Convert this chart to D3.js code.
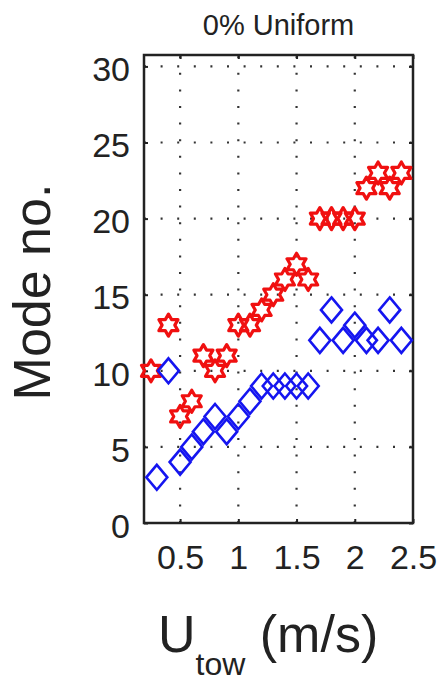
<!DOCTYPE html>
<html>
<head>
<meta charset="utf-8">
<script src="https://cdn.jsdelivr.net/npm/d3@7"></script>
<style>
  body { margin: 0; background: #ffffff; }
  text { font-family: Arial, "Liberation Sans", sans-serif; fill: #222222; }
</style>
</head>
<body>
<svg id="mode-chart" width="439" height="683"></svg>
<script>
    // red hexagrams
    let redSpeed = [0.25, 0.4, 0.5, 0.6, 0.7, 0.8, 0.9, 1.0, 1.1, 1.2, 1.3, 1.4, 1.5, 1.6, 1.7, 1.8, 1.9, 2.0, 2.1, 2.2, 2.3, 2.4]
    let redMode  = [10, 13, 7, 8, 11, 10, 11, 13, 13, 14, 15, 16, 17, 16, 20, 20, 20, 20, 22, 23, 22, 23]

    // blue diamonds
    let blueSpeed = [0.3, 0.4, 0.5, 0.6, 0.7, 0.8, 0.9, 1.0, 1.1, 1.2, 1.3, 1.4, 1.5, 1.6, 1.7, 1.8, 1.9, 2.0, 2.1, 2.2, 2.3, 2.4]
    let blueMode  = [3, 10, 4, 5, 6, 7, 6, 7, 8, 9, 9, 9, 9, 9, 12, 14, 12, 13, 12, 12, 14, 12]

    let xTicks = [0.5, 1, 1.5, 2, 2.5]
    let yTicks = [0, 5, 10, 15, 20, 25, 30]

    let svg = d3.select("#mode-chart")

    let plot = { left: 144, right: 413, top: 55, bottom: 523 }

    let x = d3.scaleLinear()
        .domain([0.19, 2.5])
        .range([plot.left, plot.right])

    let y = d3.scaleLinear()
        .domain([0, 30.75])
        .range([plot.bottom, plot.top])

    // dotted grid
    let grid = svg.append("g")
        .style("stroke", "#333")
        .style("stroke-width", 2.2)
        .style("stroke-dasharray", "2,14.6")

    grid.selectAll(".vgrid")
        .data(xTicks.slice(0, 4))
        .join("line")
        .attr("x1", d => x(d))
        .attr("x2", d => x(d))
        .attr("y1", plot.bottom)
        .attr("y2", plot.top)

    grid.selectAll(".hgrid")
        .data(yTicks.slice(1))
        .join("line")
        .attr("x1", plot.left)
        .attr("x2", plot.right)
        .attr("y1", d => y(d))
        .attr("y2", d => y(d))

    // axes with inward ticks
    let xAxisSettings = d3.axisBottom(x)
        .tickValues(xTicks)
        .tickSize(-4)
        .tickPadding(22)
        .tickFormat(d3.format("~g"))

    let yAxisSettings = d3.axisLeft(y)
        .tickValues(yTicks)
        .tickSize(-4)
        .tickPadding(14)

    let xAxisTicks = svg.append("g")
        .attr("class", "x axis")
        .attr("transform", `translate(0, ${plot.bottom})`)
        .call(xAxisSettings)

    let yAxisTicks = svg.append("g")
        .attr("class", "y axis")
        .attr("transform", `translate(${plot.left}, 0)`)
        .call(yAxisSettings)

    // top and right ticks
    svg.append("g")
        .attr("transform", `translate(0, ${plot.top})`)
        .call(d3.axisTop(x).tickValues(xTicks).tickSize(-4).tickFormat(""))
    svg.append("g")
        .attr("transform", `translate(${plot.right}, 0)`)
        .call(d3.axisRight(y).tickValues(yTicks).tickSize(-4).tickFormat(""))

    svg.selectAll(".domain").remove()
    svg.selectAll(".tick line")
        .style("stroke", "#222")
        .style("stroke-width", 2)

    svg.selectAll(".axis text")
        .style("font-size", "34px")
        .style("font-family", "Arial, 'Liberation Sans', sans-serif")
        .attr("fill", "#222")

    yAxisTicks.selectAll("text").attr("dy", "0.42em")
    xAxisTicks.selectAll("text").attr("dy", "0.71em")

    // frame
    svg.append("rect")
        .attr("x", plot.left)
        .attr("y", plot.top)
        .attr("width", plot.right - plot.left)
        .attr("height", plot.bottom - plot.top)
        .style("fill", "none")
        .style("stroke", "#222")
        .style("stroke-width", 2.5)

    // markers
    function hexagram(R) {
        let r = R / Math.sqrt(3)
        let pts = d3.range(12).map(i => {
            let a = -Math.PI / 2 + i * Math.PI / 6
            let rad = i % 2 == 0 ? R : r
            return [rad * Math.cos(a), rad * Math.sin(a)]
        })
        return "M" + pts.join("L") + "Z"
    }

    let redData = redSpeed.map((s, i) => ({ speed: s, mode: redMode[i] }))
    let blueData = blueSpeed.map((s, i) => ({ speed: s, mode: blueMode[i] }))

    svg.append("g")
        .selectAll("path")
        .data(redData)
        .join("path")
        .attr("transform", d => `translate(${x(d.speed)}, ${y(d.mode)})`)
        .attr("d", hexagram(11))
        .style("fill", "none")
        .style("stroke", "#f01010")
        .style("stroke-width", 3.2)
        .style("stroke-linejoin", "round")

    svg.append("g")
        .selectAll("path")
        .data(blueData)
        .join("path")
        .attr("transform", d => `translate(${x(d.speed)}, ${y(d.mode)})`)
        .attr("d", "M0,-12.5L10.5,0L0,12.5L-10.5,0Z")
        .style("fill", "none")
        .style("stroke", "#1515f0")
        .style("stroke-width", 2.6)

    // title and labels
    svg.append("text")
        .attr("x", (plot.left + plot.right) / 2)
        .attr("y", 35)
        .attr("text-anchor", "middle")
        .style("font-size", "29px")
        .text("0% Uniform")

    svg.append("text")
        .attr("transform", "translate(50, 292) rotate(-90)")
        .attr("text-anchor", "middle")
        .style("font-size", "52px")
        .text("Mode no.")

    let xLabel = svg.append("text")
        .attr("x", 158)
        .attr("y", 652)
        .style("font-size", "52px")
    xLabel.append("tspan").text("U")
    xLabel.append("tspan")
        .attr("dy", 23)
        .style("font-size", "32px")
        .text("tow")
    xLabel.append("tspan")
        .attr("dy", -23)
        .text(" (m/s)")
</script>
</body>
</html>
